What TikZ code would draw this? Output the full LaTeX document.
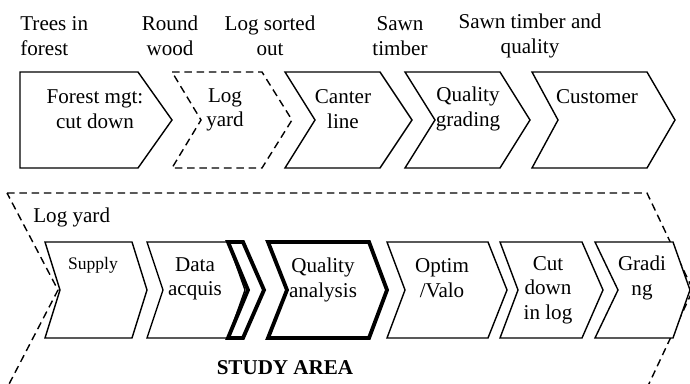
\documentclass[tikz,border=0pt]{standalone}
\usepackage{fontspec}
\setmainfont{Liberation Serif}
\usepackage{tikz}

\begin{document}
\begin{tikzpicture}[
    x = 0.02cm, y = -0.02cm, % one unit per pixel
    box/.style = {draw, fill = white, line width = 0.8pt, line join = miter},
    dashbox/.style = {draw, line width = 0.8pt, dash pattern = on 4.3pt off 2.7pt},
    boldbox/.style = {draw, fill = white, line width = 2.2pt, line join = miter},
    txt/.style = {align = center, inner sep = 0pt, font = \fontsize{12}{14}\selectfont}
    ]
    \useasboundingbox (0,0) rectangle (690,384);

    % top row: value chain
    \draw[box] (20,72) -- (138,72) -- (172,120) -- (138,168) -- (20,168) -- cycle;
    \draw[dashbox] (172,72) -- (262,72) -- (292,120) -- (262,168) -- (172,168) -- (201,120) -- cycle;
    \draw[box] (285,72) -- (380,72) -- (412,120) -- (380,168) -- (285,168) -- (315,120) -- cycle;
    \draw[box] (405,72) -- (500,72) -- (530,120) -- (500,168) -- (405,168) -- (435,120) -- cycle;
    \draw[box] (532,72) -- (647,72) -- (675,120) -- (647,168) -- (532,168) -- (558,120) -- cycle;

    \node[txt, anchor = west, align = left] (trees) at (20,36) {Trees in\\forest};
    \node[txt] (round) at (170,36) {Round\\wood};
    \node[txt] (sorted) at (270,36) {Log sorted\\out};
    \node[txt] (sawn) at (400,36) {Sawn\\timber};
    \node[txt] (sawnq) at (530,36) {Sawn timber and\\quality};

    \node[txt] (forest) at (95,109) {Forest mgt:\\cut down};
    \node[txt] (logyard) at (225,110) {Log\\yard};
    \node[txt] (canter) at (343,109) {Canter\\line};
    \node[txt] (grading) at (468,109) {Quality\\grading};
    \node[txt] (customer) at (597,97) {Customer};

    % bottom row: log yard
    \draw[dashbox] (7,193) -- (647,193) -- (693,290) -- (647,388) -- (7,388) -- (58,290) -- cycle;

    \draw[box] (45,242) -- (132,242) -- (147,290) -- (132,338) -- (45,338) -- (60,290) -- cycle;
    \draw[box] (147,242) -- (228,242) -- (245,290) -- (228,338) -- (147,338) -- (163,290) -- cycle;
    \draw[boldbox] (228,242) -- (243,242) -- (264,290) -- (243,338) -- (228,338) -- (248,290) -- cycle;
    \draw[boldbox] (268,242) -- (369,242) -- (387,290) -- (369,338) -- (268,338) -- (287,290) -- cycle;
    \draw[box] (387,242) -- (488,242) -- (507,290) -- (488,338) -- (387,338) -- (405,290) -- cycle;
    \draw[box] (500,242) -- (582,242) -- (603,290) -- (582,338) -- (500,338) -- (518,290) -- cycle;
    \draw[box] (595,242) -- (673,242) -- (690,290) -- (673,338) -- (595,338) -- (618,290) -- cycle;

    \node[txt, anchor = west] (yard) at (33,217) {Log yard};
    \node[txt, font = \fontsize{10}{12}\selectfont] (supply) at (93,265) {Supply};
    \node[txt] (data) at (195,279) {Data\\acquis};
    \node[txt] (quality) at (323,280) {Quality\\analysis};
    \node[txt] (optim) at (442,278) {Optim\\/Valo};
    \node[txt] (cut) at (548,290) {Cut\\down\\in log};
    \node[txt] (gradi) at (642,278) {Gradi\\ng};
    \node[txt, font = \fontsize{12}{14}\selectfont\bfseries] (study) at (285,368) {STUDY AREA};
\end{tikzpicture}
\end{document}
